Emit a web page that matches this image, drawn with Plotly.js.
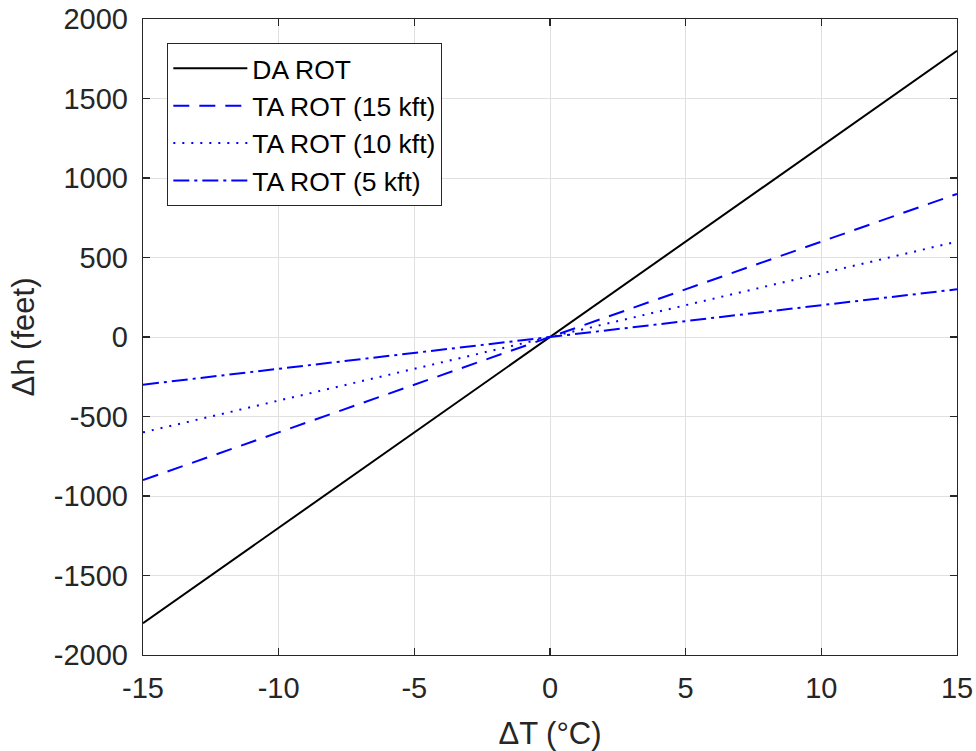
<!DOCTYPE html>
<html>
<head>
<meta charset="utf-8">
<script src="https://cdn.plot.ly/plotly-3.0.1.min.js"></script>
<style>html,body{margin:0;padding:0;background:#fff;}#chart{width:976px;height:751px;}</style>
</head>
<body>
<div id="chart"></div>
<script>
// Data (temperature deviation in °C vs altitude error in feet)
const deltaT = [-15, 0, 15];
const daRot = [-1800, 0, 1800];
const taRot15 = [-900, 0, 900];
const taRot10 = [-600, 0, 600];
const taRot5 = [-300, 0, 300];
const seriesNames = ["DA ROT", "TA ROT (15 kft)", "TA ROT (10 kft)", "TA ROT (5 kft)"];

const xTickVals = [-15, -10, -5, 0, 5, 10, 15];
const xTickText = ["-15", "-10", "-5", "0", "5", "10", "15"];
const yTickVals = [-2000, -1500, -1000, -500, 0, 500, 1000, 1500, 2000];
const yTickText = ["-2000", "-1500", "-1000", "-500", "0", "500", "1000", "1500", "2000"];

const FONT = '"Liberation Sans", Arial, Helvetica, sans-serif';
const AX = '#262626';

const traces = [
  {x: deltaT, y: daRot, name: seriesNames[0], legendgroup: 'a', line: {color: '#000000', width: 2, dash: 'solid'}},
  {x: deltaT, y: taRot15, name: seriesNames[1], legendgroup: 'b', line: {color: '#0000ff', width: 2, dash: '16px,10px'}},
  {x: deltaT, y: taRot10, name: seriesNames[2], legendgroup: 'c', line: {color: '#0000ff', width: 2, dash: '2px,7px'}},
  {x: deltaT, y: taRot5, name: seriesNames[3], legendgroup: 'd', line: {color: '#0000ff', width: 2, dash: '16px,5px,3px,5px'}}
].map(t => Object.assign({type: 'scatter', mode: 'lines', hoverinfo: 'skip'}, t));

const axisCommon = {
  showline: true, linecolor: AX, linewidth: 1.3, mirror: 'ticks',
  ticks: 'inside', ticklen: 7, tickwidth: 1.3, tickcolor: AX,
  showgrid: true, gridcolor: '#e0e0e0', gridwidth: 1,
  zeroline: false, tickfont: {family: FONT, size: 29, color: AX},
  automargin: false, fixedrange: true
};

const layout = {
  width: 976, height: 751,
  margin: {l: 143, r: 19, t: 19, b: 96},
  paper_bgcolor: '#ffffff', plot_bgcolor: '#ffffff',
  font: {family: FONT, color: AX},
  showlegend: true,
  xaxis: Object.assign({}, axisCommon, {
    range: [-15, 15], tickmode: 'array', tickvals: xTickVals, ticktext: xTickText,
    ticklabelstandoff: 7,
    title: {text: 'ΔT (°C)', font: {family: FONT, size: 31, color: AX}, standoff: 21}
  }),
  yaxis: Object.assign({}, axisCommon, {
    range: [-2000, 2000], tickmode: 'array', tickvals: yTickVals, ticktext: yTickText,
    ticklabelstandoff: 8,
    title: {text: 'Δh (feet)', font: {family: FONT, size: 31, color: AX}, standoff: 10}
  }),
  legend: {
    x: 0.0295, y: 0.962, xanchor: 'left', yanchor: 'top',
    bgcolor: '#ffffff', bordercolor: AX, borderwidth: 1.3,
    font: {family: FONT, size: 26.5, color: '#000000'},
    traceorder: 'grouped', tracegroupgap: 0, itemwidth: 74
  }
};

Plotly.newPlot('chart', traces, layout, {displayModeBar: false, staticPlot: true});
</script>
</body>
</html>
